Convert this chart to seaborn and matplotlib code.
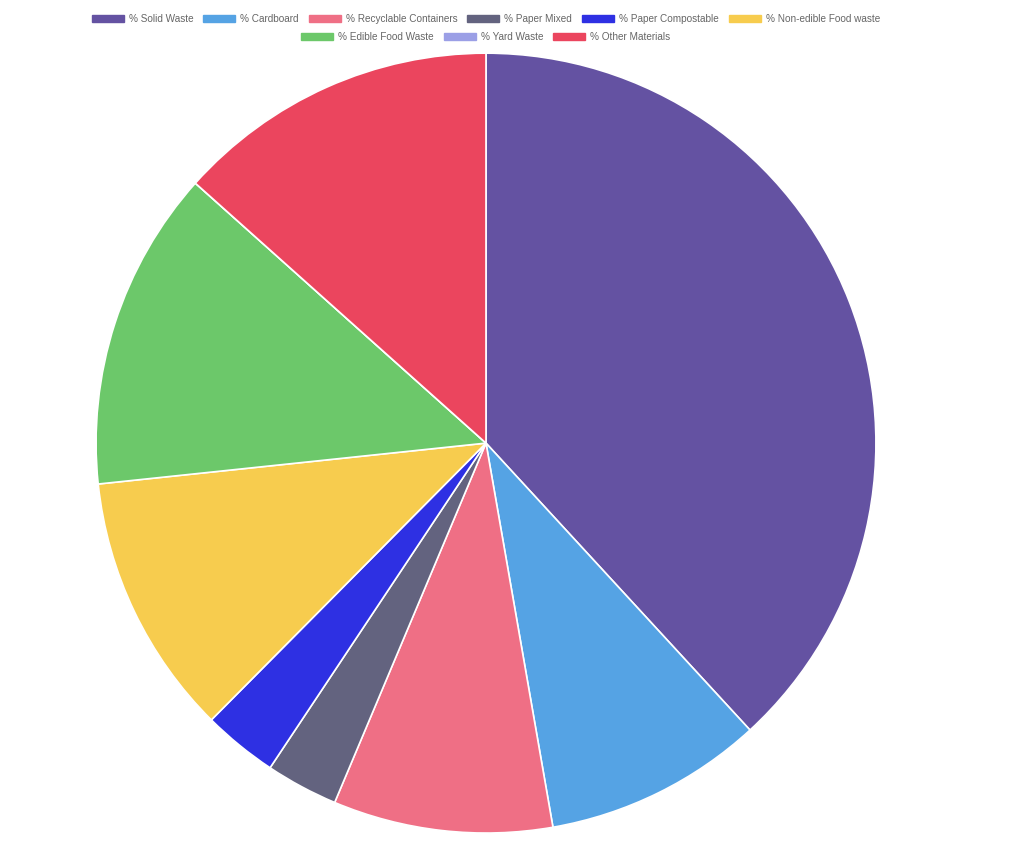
import matplotlib
matplotlib.use("Agg")
import matplotlib.pyplot as plt
import seaborn as sns
from matplotlib.patches import Patch

labels = ["% Solid Waste", "% Cardboard", "% Recyclable Containers", "% Paper Mixed",
          "% Paper Compostable", "% Non-edible Food waste", "% Edible Food Waste",
          "% Yard Waste", "% Other Materials"]
values = [38.2, 9.1, 9.1, 3.0, 3.1, 10.9, 13.3, 0.0, 13.4]
colors = ["#6452A2", "#55A3E4", "#EF6F85", "#63637F", "#2E30E3",
          "#F7CC4E", "#6CC86A", "#9B9FE6", "#EB455E"]

sns.set_theme(style="white")
plt.rcParams['font.family'] = ['Liberation Sans', 'DejaVu Sans']

palette = sns.color_palette(colors)
fig = plt.figure(figsize=(10.24, 8.44), dpi=100)
ax = fig.add_axes([0.09375, 0.013, 0.7617, 0.924])
ax.pie(values, colors=palette, startangle=90, counterclock=False, radius=1,
       wedgeprops=dict(edgecolor="white", linewidth=1.2))
ax.set_xlim(-1, 1)
ax.set_ylim(-1, 1)
ax.set_aspect("equal")
ax.axis("off")

handles = [Patch(facecolor=c, edgecolor=c, label=l) for c, l in zip(palette, labels)]
common = dict(frameon=False, fontsize=7.2, labelcolor="#666666", handlelength=3.2,
              handleheight=0.8, handletextpad=0.5, columnspacing=1.0,
              borderaxespad=0, borderpad=0)
leg1 = fig.legend(handles=handles[:6], ncol=6, loc="center",
                  bbox_to_anchor=(0.4746, 0.9775), **common)
leg2 = fig.legend(handles=handles[6:], ncol=3, loc="center",
                  bbox_to_anchor=(0.4746, 0.956), **common)

fig.savefig("out.png", dpi=100)
